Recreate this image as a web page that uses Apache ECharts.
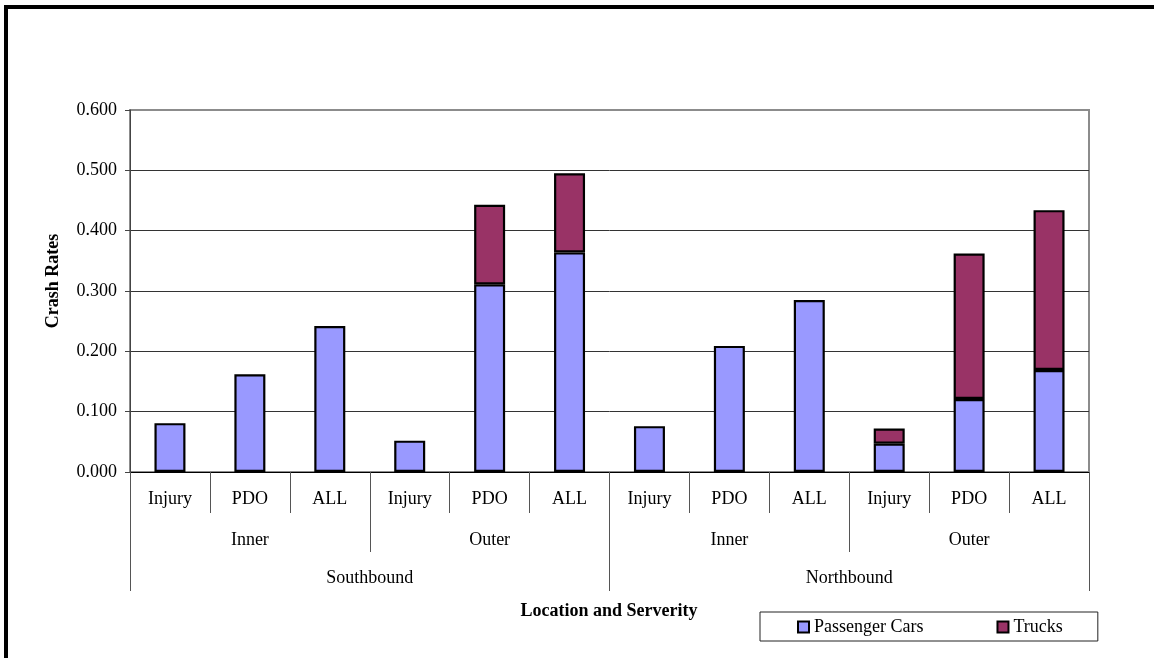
<!DOCTYPE html>
<html>
<head>
<meta charset="utf-8">
<title>Crash Rates by Location and Severity</title>
<script src="https://cdn.jsdelivr.net/npm/echarts@6/dist/echarts.min.js"></script>
<style>
  html, body { margin: 0; padding: 0; background: #fff; }
  #chart { width: 1154px; height: 658px; }
</style>
</head>
<body>
<div id="chart"></div>
<script>
// Severity categories (innermost axis row)
const severities = ['Injury', 'PDO', 'ALL', 'Injury', 'PDO', 'ALL', 'Injury', 'PDO', 'ALL', 'Injury', 'PDO', 'ALL'];
// Lane location (middle axis row)
const locations = ['Inner', 'Outer', 'Inner', 'Outer'];
// Travel direction (outer axis row)
const directions = ['Southbound', 'Northbound'];

// Crash rates, stacked per category
const passengerCars = [0.081, 0.162, 0.242, 0.052, 0.311, 0.364, 0.076, 0.209, 0.285, 0.047, 0.121, 0.169];
const trucks = [null, null, null, null, 0.132, 0.131, null, null, null, 0.025, 0.241, 0.265];

const FONT = '"Liberation Serif", "Times New Roman", serif';
const tickColor = '#555';

const chart = echarts.init(document.getElementById('chart'), null, { renderer: 'canvas' });

chart.setOption({
  backgroundColor: '#fff',
  animation: false,
  textStyle: { fontFamily: FONT, color: '#000' },
  grid: {
    left: 130, right: 65, top: 110, bottom: 186,
    show: true, borderColor: '#8c8c8c', borderWidth: 2, backgroundColor: 'transparent'
  },
  legend: {
    left: 760, top: 612,
    padding: [6, 35, 5, 37],
    itemGap: 73, itemTextGap: 5,
    itemWidth: 11, itemHeight: 11,
    icon: 'rect',
    borderColor: '#222', borderWidth: 1,
    textStyle: { fontFamily: FONT, fontSize: 18, color: '#000' },
    itemStyle: { borderColor: '#000', borderWidth: 2 },
    data: ['Passenger Cars', 'Trucks']
  },
  graphic: [
    {
      type: 'rect', silent: true,
      shape: { x: 6, y: 7, width: 1200, height: 700 },
      style: { fill: 'none', stroke: '#000', lineWidth: 4 }
    },
    {
      type: 'text', x: 53, y: 281, rotation: Math.PI / 2,
      style: { text: 'Crash Rates', font: 'bold 18px ' + FONT, fill: '#000', align: 'center', verticalAlign: 'middle' }
    },
    {
      type: 'text', x: 609, y: 611,
      style: { text: 'Location and Serverity', font: 'bold 18px ' + FONT, fill: '#000', align: 'center', verticalAlign: 'middle' }
    }
  ],
  xAxis: [
    {
      type: 'category', data: severities, position: 'bottom',
      axisLine: { show: true, lineStyle: { color: '#000', width: 1 } },
      axisTick: { show: true, interval: 0, length: 41, alignWithLabel: false, lineStyle: { color: tickColor } },
      axisLabel: { interval: 0, margin: 18, fontSize: 18, fontFamily: FONT, color: '#000' },
      splitLine: { show: false }
    },
    {
      type: 'category', data: locations, position: 'bottom',
      axisLine: { show: false },
      axisTick: { show: true, interval: 0, length: 80, alignWithLabel: false, lineStyle: { color: tickColor } },
      axisLabel: { interval: 0, margin: 59, fontSize: 18, fontFamily: FONT, color: '#000' },
      splitLine: { show: false }
    },
    {
      type: 'category', data: directions, position: 'bottom',
      axisLine: { show: false },
      axisTick: { show: true, interval: 0, length: 119, alignWithLabel: false, lineStyle: { color: tickColor } },
      axisLabel: { interval: 0, margin: 97, fontSize: 18, fontFamily: FONT, color: '#000' },
      splitLine: { show: false }
    }
  ],
  yAxis: {
    type: 'value', min: 0, max: 0.6, interval: 0.1,
    axisLine: { show: true, lineStyle: { color: '#444', width: 1 } },
    axisTick: { show: true, length: 5, lineStyle: { color: '#444' } },
    axisLabel: { margin: 13, fontSize: 18, fontFamily: FONT, color: '#000', formatter: v => v.toFixed(3) },
    splitLine: { show: true, showMaxLine: false, lineStyle: { color: '#333', width: 1 } }
  },
  series: [
    {
      name: 'Passenger Cars', type: 'bar', stack: 'total', xAxisIndex: 0,
      barWidth: 31,
      data: passengerCars,
      itemStyle: { color: '#9999ff', borderColor: '#000', borderWidth: 2.2 }
    },
    {
      name: 'Trucks', type: 'bar', stack: 'total', xAxisIndex: 0,
      barWidth: 31,
      data: trucks,
      itemStyle: { color: '#993366', borderColor: '#000', borderWidth: 2.2 }
    }
  ]
});
</script>
</body>
</html>
